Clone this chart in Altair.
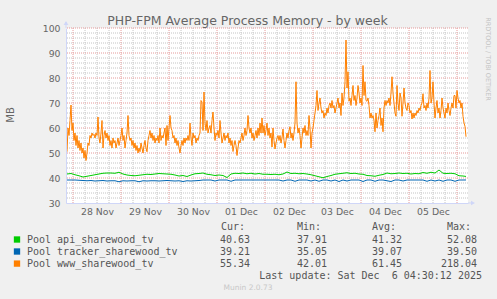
import json
import altair as alt
import numpy as np
import pandas as pd

# ---------------- data ----------------
TITLE = "PHP-FPM Average Process Memory - by week"
DAY_LABELS = ["28 Nov", "29 Nov", "30 Nov", "01 Dec", "02 Dec", "03 Dec", "04 Dec", "05 Dec"]
SERIES = ["Pool api_sharewood_tv", "Pool tracker_sharewood_tv", "Pool www_sharewood_tv"]
COLORS = ["#00CC00", "#0066B3", "#FF8000"]
CUR = ["40.63", "39.21", "55.34"]
MIN = ["37.91", "35.05", "42.01"]
AVG = ["41.32", "39.07", "61.45"]
MAX = ["52.08", "39.50", "218.04"]
HEADERS = ["Cur:", "Min:", "Avg:", "Max:"]
LAST_UPDATE = "Last update: Sat Dec\u00a0 6 04:30:12 2025"
VERSION = "Munin 2.0.73"
WATERMARK = "RRDTOOL / TOBI OETIKER"
Y_LABEL = "MB"

# hours relative to 28 Nov 00:00, one sample per 30 minutes
WWW_HOURS = [-3.0 + 0.5 * i for i in range(400)]
www = [
    50.5, 60, 57, 63, 69.2, 59, 62, 55, 58, 53,
    57, 52, 55, 51, 54, 50, 52, 48, 51, 47,
    50, 54, 53, 57, 56, 58, 57, 57.5, 56, 58,
    57, 64.4, 56, 54, 58, 63, 52, 57, 59, 56,
    58, 55, 57, 53, 55, 52, 56, 54, 55, 52,
    54, 56, 53, 55, 57, 60, 55, 57, 52, 55,
    58, 65, 57, 55, 56, 53, 55, 52, 54, 51,
    53, 50, 52, 50.5, 54, 52, 50, 53, 55, 52,
    50.5, 55, 57, 59, 56, 58, 55, 57, 54, 56,
    55, 57, 54, 60, 55, 57, 56, 58, 60, 53,
    61, 55, 60, 65, 60, 59, 56, 57, 54, 56,
    53, 55, 52, 50, 53, 55, 53, 56, 54, 56,
    55, 57, 55, 62, 56, 53, 58, 56, 57, 54,
    56, 55, 57, 58, 71, 70.4, 59, 74.4, 62, 59,
    63, 58, 60, 61, 58, 63, 66.4, 60, 55, 58,
    57, 59, 56, 63, 58, 54, 56, 58, 55, 57,
    56, 58, 54, 56, 53, 55, 50.6, 53, 55, 53,
    49, 52, 55, 54, 56, 58, 55, 57, 60, 57,
    59, 65, 60, 58, 60, 56, 58, 55, 57, 59,
    56, 60, 57, 62, 58, 64, 58, 61, 57, 59,
    62, 57, 60, 56, 58, 52.4, 60, 55, 51.6, 54,
    56, 57, 55, 57, 54, 56, 59.6, 55, 52, 55,
    58, 56, 59, 60.5, 56, 58, 55, 58, 62, 78.5,
    62, 58, 60, 57, 52, 56, 60, 58, 61, 57,
    59, 57, 65, 60, 52, 58, 60, 63, 66, 69,
    75, 67, 70, 72, 68, 66, 67, 64, 66, 65,
    68, 66, 69, 70, 68, 71, 68, 69, 66, 68,
    70, 72, 68, 70, 65, 74, 69, 72, 78.5, 95.2,
    76, 82.5, 70.7, 72, 69, 73, 77, 71, 73, 69,
    72, 77, 74, 70, 72, 69, 85, 73, 78.5, 71,
    70.7, 72, 69, 64, 66, 64, 65, 63, 58.5, 66,
    60, 63, 65, 68, 61, 64, 58.5, 68, 71, 69,
    71, 70, 72, 69, 74, 80.5, 74, 70, 66, 64.7,
    77, 70, 67, 74, 72, 64.7, 70, 76, 70, 68,
    67, 70, 69, 66, 67, 63.6, 66, 64, 66, 65,
    67, 66, 68, 67, 69, 70, 73.7, 68, 69, 67,
    70, 68, 72, 83, 70, 72, 78.5, 70, 64, 68,
    71, 66, 68, 64, 67, 72, 68, 66, 64, 68,
    66, 70, 67, 65, 68, 70, 68, 73, 73, 68,
    75, 72, 70, 71, 68, 70, 64.7, 62, 60.7, 56.5,
]

# one sample per 2 hours (plus the last update)
GB_HOURS = [float(h) for h in np.arange(-3, 197, 2)] + [196.5]
api = [
    41.6, 41.8, 41.3, 40.9, 40.4, 40.7, 41.0, 41.3, 41.6, 41.9,
    42.0, 42.0, 41.9, 42.3, 41.6, 41.2, 41.0, 40.9, 41.1, 41.3,
    41.5, 41.4, 41.6, 41.8, 41.7, 41.6, 41.5, 41.2, 40.8, 41.0,
    40.6, 41.2, 41.7, 41.8, 42.0, 41.5, 41.3, 41.0, 41.2, 41.0,
    40.2, 41.6, 41.9, 41.8, 42.0, 41.7, 41.9, 41.6, 41.8, 41.5,
    41.5, 41.4, 41.5, 41.3, 41.6, 42.4, 41.8, 41.9, 41.7, 41.8,
    41.6, 41.3, 40.9, 40.5, 40.1, 40.6, 41.0, 41.5, 41.7, 41.9,
    42.1, 41.8, 41.9, 41.6, 41.5, 41.0, 40.9, 40.7, 41.1, 41.4,
    42.0, 41.7, 41.8, 42.0, 41.8, 41.9, 41.6, 41.8, 41.7, 42.2,
    41.9, 42.3, 42.0, 43.2, 41.9, 41.8, 41.9, 41.7, 40.9, 40.8,
    40.63,
]
tracker = [
    39.2, 39.2, 39.2, 39.1, 39.0, 38.9, 39.0, 38.8, 38.9, 39.0,
    38.8, 38.9, 38.9, 38.5, 38.9, 38.8, 38.9, 38.9, 38.5, 38.9,
    38.8, 38.9, 38.9, 38.8, 38.9, 39.0, 38.9, 38.8, 38.9, 38.6,
    38.9, 38.8, 38.9, 39.0, 39.2, 39.2, 39.2, 38.8, 39.2, 39.2,
    39.2, 38.7, 39.2, 39.2, 39.2, 39.2, 39.2, 39.2, 39.2, 39.2,
    39.2, 39.2, 39.2, 39.2, 38.8, 39.2, 39.2, 38.7, 39.2, 39.2,
    39.2, 38.8, 39.2, 38.7, 39.2, 39.2, 38.8, 39.2, 38.6, 39.2,
    38.8, 39.2, 39.2, 39.2, 38.6, 39.2, 39.2, 38.7, 39.2, 39.2,
    38.9, 38.6, 39.2, 39.2, 38.8, 39.2, 39.2, 39.2, 39.2, 39.2,
    38.7, 39.2, 38.8, 39.2, 38.7, 39.2, 39.2, 38.7, 39.2, 39.2,
    39.21,
]

Y_TICKS = list(range(30, 101, 10))
MINOR_Y = [v for v in range(32, 100, 2) if v % 10]
MAJOR_Y = list(range(40, 101, 10))
MINOR_X = [h for h in range(6, 198, 6) if h % 24]
MAJOR_X = list(range(0, 198, 24))
LABEL_X = [12 + 24 * i for i in range(len(DAY_LABELS))]

# ---------------- styling ----------------
FONT = "DejaVu Sans"
MONO = "DejaVu Sans Mono"
TXT = "#666666"
AXIS_C = "#CFD6F8"
GRID_C = "#c4c4c4"
MGRID_C = "#e59a9a"
W, H = 402, 175

xs = alt.Scale(domain=[-3.5, 197.5], nice=False, zero=False)
ys = alt.Scale(domain=[30, 100], nice=False, zero=False)

xaxis = alt.Axis(
    values=LABEL_X, labelExpr=f"{json.dumps(DAY_LABELS)}[floor(datum.value / 24)]",
    ticks=False, grid=False, domainColor=AXIS_C, domainWidth=1,
    labelColor=TXT, labelFont=FONT, labelFontSize=9.3, labelPadding=4,
    labelFlush=False, labelOverlap=False, title=None, zindex=1,
)
yaxis = alt.Axis(
    values=Y_TICKS, ticks=False, grid=False, domainColor=AXIS_C, domainWidth=1,
    labelColor=TXT, labelFont=FONT, labelFontSize=9.3, labelPadding=6,
    title=None, zindex=1,
)


def xq(field):
    return alt.X(f"{field}:Q", scale=xs, axis=xaxis)


def yq(field):
    return alt.Y(f"{field}:Q", scale=ys, axis=yaxis)


layers = []

# grid
layers.append(alt.Chart(pd.DataFrame({"v": MINOR_Y})).mark_rule(
    color=GRID_C, strokeDash=[1, 1], strokeWidth=1).encode(y=yq("v")))
layers.append(alt.Chart(pd.DataFrame({"h": MINOR_X})).mark_rule(
    color=GRID_C, strokeDash=[1, 1], strokeWidth=1).encode(x=xq("h")))
layers.append(alt.Chart(pd.DataFrame({"v": MAJOR_Y})).mark_rule(
    color=MGRID_C, strokeDash=[1, 1], strokeWidth=1).encode(y=yq("v")))
layers.append(alt.Chart(pd.DataFrame({"h": MAJOR_X})).mark_rule(
    color=MGRID_C, strokeDash=[1, 1], strokeWidth=1).encode(x=xq("h")))

# data lines
for hours, vals, col in [(GB_HOURS, api, COLORS[0]), (GB_HOURS, tracker, COLORS[1]),
                         (WWW_HOURS, www, COLORS[2])]:
    df = pd.DataFrame({"h": hours, "v": vals})
    layers.append(alt.Chart(df).mark_line(color=col, strokeWidth=1).encode(
        x=xq("h"), y=yq("v")))

one = pd.DataFrame({"t": [""]})

# axis arrows
layers.append(alt.Chart(one).mark_rule(color=AXIS_C).encode(
    x=alt.value(0), y=alt.value(-6), y2=alt.value(0)))
layers.append(alt.Chart(one).mark_rule(color=AXIS_C).encode(
    x=alt.value(W), x2=alt.value(W + 4), y=alt.value(H)))
layers.append(alt.Chart(one).mark_point(shape="triangle-up", filled=True, size=22,
                                        color=AXIS_C, opacity=1).encode(
    x=alt.value(0), y=alt.value(-5)))
layers.append(alt.Chart(one).mark_point(shape="triangle-right", filled=True, size=22,
                                        color=AXIS_C, opacity=1).encode(
    x=alt.value(W + 5), y=alt.value(H)))


def text(s, x, y, align="left", font=FONT, size=10, color=TXT, angle=0, baseline="middle"):
    kw = dict(align=align, font=font, fontSize=size, color=color, baseline=baseline)
    if angle:
        kw["angle"] = angle
    return alt.Chart(pd.DataFrame({"t": [s]})).mark_text(**kw).encode(
        text="t:N", x=alt.value(x), y=alt.value(y))


# title, y label, watermark
layers.append(text(TITLE, 181.5, -3.5, align="center", size=12.5, baseline="alphabetic"))
layers.append(text(Y_LABEL, -55, 87, align="center", size=10, angle=270))
layers.append(text(WATERMARK, 422, 31, align="center", size=6.5, color="#c4c4c4", angle=90))

# legend
LEG_C = "#555555"
header_x = [155, 231, 306, 381]
value_right = [184, 261, 336, 411]
for hx, hs in zip(header_x, HEADERS):
    layers.append(text(hs, hx, 199.3, font=MONO, size=10, color=LEG_C))
row_y = [211.5, 223.5, 235.6]
for i, name in enumerate(SERIES):
    ry = row_y[i]
    layers.append(alt.Chart(one).mark_square(size=40, color=COLORS[i], opacity=1).encode(
        x=alt.value(-49), y=alt.value(ry)))
    layers.append(text(name, -39, ry, font=MONO, size=10, color=LEG_C))
    for vr, col in zip(value_right, [CUR, MIN, AVG, MAX]):
        layers.append(text(col[i], vr, ry, align="right", font=MONO, size=10, color=LEG_C))
layers.append(text(LAST_UPDATE, 416, 247.5, align="right", font=MONO, size=10, color=LEG_C))
layers.append(text(VERSION, 182, 260.3, align="center", size=7.5, color="#c8c8c8"))

chart = alt.layer(*layers).properties(
    width=W, height=H,
    padding={"left": 66, "top": 28, "right": 29, "bottom": 96},
    autosize=alt.AutoSizeParams(type="none"),
    background="#F0F0F0",
).configure_view(fill="white", stroke=None)

chart.save("out.html", embed_options={"renderer": "svg", "actions": False})
